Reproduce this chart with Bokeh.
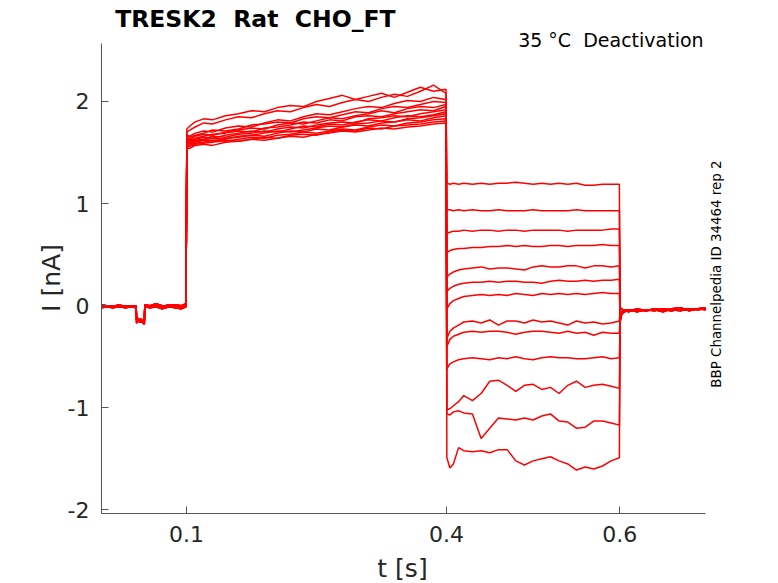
#TRESK2 deactivation traces, Bokeh version

import numpy as np
from bokeh.plotting import figure
from bokeh.models import ColumnDataSource, Range1d, FixedTicker, Label, LinearAxis
from bokeh.embed import file_html
from bokeh.resources import INLINE

#Time points of each protocol segment (s)

t_pre = [0.002, 0.008, 0.015, 0.022, 0.03, 0.036, 0.042, 0.0425, 0.047, 0.0515,
         0.052, 0.058, 0.065, 0.072, 0.08, 0.087, 0.094, 0.0995]
t_step = [0.1005, 0.104, 0.11, 0.12, 0.13, 0.145, 0.16, 0.175, 0.19, 0.205, 0.22, 0.235,
          0.25, 0.265, 0.28, 0.295, 0.31, 0.325, 0.34, 0.355, 0.37, 0.385, 0.3995]
t_test = [0.4005, 0.404, 0.408, 0.414, 0.42, 0.43, 0.44, 0.45, 0.46, 0.47, 0.48, 0.49,
          0.50, 0.51, 0.52, 0.53, 0.54, 0.55, 0.56, 0.57, 0.58, 0.59, 0.5995]
t_tail = [0.6005, 0.602, 0.605, 0.61, 0.62, 0.63, 0.64, 0.65, 0.66, 0.67, 0.68, 0.69, 0.699]

#Holding current before the step (nA), three sweeps shapes

pre_a = [0.00, -0.01, 0.00, -0.01, 0.00, -0.01, 0.00, -0.14, -0.16, -0.13, 0.00, -0.01, 0.00, -0.01, 0.01, 0.00, -0.01, 0.00]
pre_b = [-0.02, -0.01, -0.02, -0.01, -0.02, -0.01, -0.02, -0.17, -0.13, -0.15, -0.01, -0.02, -0.01, -0.03, -0.01, -0.02, -0.03, -0.01]
pre_c = [0.01, 0.00, -0.01, 0.01, -0.01, 0.00, -0.01, -0.11, -0.15, -0.18, 0.01, 0.00, 0.02, 0.00, -0.01, 0.01, 0.00, 0.02]

#Activating step 0.1 - 0.4 s (nA), one row per sweep

step_1 = [1.73, 1.76, 1.80, 1.83, 1.82, 1.86, 1.88, 1.91, 1.90, 1.94, 1.96, 1.95, 2.00, 2.03, 2.06, 2.02, 2.05, 2.08, 2.04, 2.09, 2.14, 2.10, 2.12]
step_2 = [1.70, 1.72, 1.75, 1.79, 1.78, 1.82, 1.85, 1.84, 1.88, 1.91, 1.90, 1.94, 1.97, 1.95, 1.99, 2.02, 2.00, 2.04, 2.07, 2.05, 2.10, 2.16, 2.08]
step_3 = [1.67, 1.66, 1.69, 1.71, 1.70, 1.74, 1.76, 1.75, 1.79, 1.82, 1.81, 1.85, 1.88, 1.87, 1.90, 1.93, 1.95, 1.94, 1.98, 2.01, 2.00, 2.04, 2.02]
step_4 = [1.66, 1.65, 1.67, 1.69, 1.72, 1.71, 1.73, 1.77, 1.78, 1.80, 1.79, 1.83, 1.85, 1.84, 1.87, 1.90, 1.89, 1.93, 1.95, 1.94, 1.97, 2.00, 1.99]
step_5 = [1.64, 1.63, 1.66, 1.68, 1.67, 1.70, 1.72, 1.74, 1.73, 1.77, 1.79, 1.78, 1.81, 1.84, 1.83, 1.86, 1.88, 1.91, 1.89, 1.93, 1.95, 1.94, 1.97]
step_6 = [1.63, 1.62, 1.64, 1.66, 1.68, 1.69, 1.71, 1.70, 1.74, 1.75, 1.77, 1.80, 1.79, 1.82, 1.81, 1.85, 1.86, 1.85, 1.88, 1.90, 1.92, 1.91, 1.95]
step_7 = [1.62, 1.61, 1.63, 1.65, 1.64, 1.67, 1.69, 1.71, 1.70, 1.73, 1.75, 1.74, 1.77, 1.79, 1.80, 1.79, 1.83, 1.84, 1.86, 1.85, 1.88, 1.90, 1.92]
step_8 = [1.61, 1.60, 1.62, 1.63, 1.66, 1.65, 1.68, 1.69, 1.71, 1.70, 1.73, 1.76, 1.75, 1.78, 1.77, 1.80, 1.82, 1.81, 1.84, 1.86, 1.85, 1.87, 1.90]
step_9 = [1.60, 1.59, 1.61, 1.62, 1.64, 1.63, 1.66, 1.67, 1.69, 1.71, 1.70, 1.72, 1.74, 1.76, 1.75, 1.78, 1.79, 1.81, 1.80, 1.83, 1.84, 1.86, 1.88]
step_10 = [1.59, 1.58, 1.60, 1.62, 1.61, 1.64, 1.65, 1.67, 1.66, 1.69, 1.71, 1.70, 1.73, 1.72, 1.75, 1.77, 1.76, 1.79, 1.80, 1.82, 1.81, 1.84, 1.86]
step_11 = [1.58, 1.57, 1.59, 1.60, 1.62, 1.61, 1.63, 1.65, 1.64, 1.67, 1.68, 1.70, 1.69, 1.71, 1.73, 1.72, 1.75, 1.77, 1.76, 1.79, 1.80, 1.82, 1.83]
step_12 = [1.56, 1.56, 1.58, 1.59, 1.60, 1.62, 1.61, 1.63, 1.65, 1.64, 1.67, 1.68, 1.67, 1.70, 1.72, 1.71, 1.74, 1.73, 1.76, 1.77, 1.78, 1.80, 1.81]
step_13 = [1.55, 1.54, 1.57, 1.58, 1.57, 1.60, 1.61, 1.63, 1.62, 1.64, 1.66, 1.65, 1.68, 1.69, 1.71, 1.70, 1.72, 1.74, 1.73, 1.75, 1.76, 1.78, 1.79]

#Deactivation test pulses 0.4 - 0.6 s (nA)

test_1 = [1.20, 1.19, 1.20, 1.19, 1.20, 1.19, 1.20, 1.19, 1.20, 1.20, 1.21, 1.20, 1.19, 1.20, 1.19, 1.20, 1.19, 1.20, 1.18, 1.18, 1.19, 1.19, 1.19]
test_2 = [0.94, 0.94, 0.93, 0.94, 0.93, 0.94, 0.93, 0.93, 0.94, 0.93, 0.93, 0.93, 0.94, 0.93, 0.93, 0.93, 0.93, 0.94, 0.93, 0.93, 0.93, 0.93, 0.93]
test_3 = [0.71, 0.72, 0.73, 0.73, 0.74, 0.73, 0.74, 0.74, 0.73, 0.74, 0.74, 0.73, 0.74, 0.74, 0.74, 0.74, 0.73, 0.74, 0.74, 0.74, 0.74, 0.75, 0.75]
test_4 = [0.52, 0.54, 0.55, 0.56, 0.56, 0.57, 0.57, 0.58, 0.58, 0.59, 0.58, 0.59, 0.58, 0.58, 0.59, 0.59, 0.58, 0.59, 0.59, 0.59, 0.60, 0.59, 0.59]
test_5 = [0.28, 0.31, 0.33, 0.35, 0.36, 0.37, 0.38, 0.36, 0.37, 0.37, 0.36, 0.35, 0.38, 0.39, 0.38, 0.38, 0.39, 0.39, 0.37, 0.39, 0.39, 0.38, 0.39]
test_6 = [0.14, 0.17, 0.19, 0.21, 0.22, 0.23, 0.23, 0.24, 0.23, 0.24, 0.24, 0.23, 0.23, 0.22, 0.24, 0.25, 0.24, 0.24, 0.25, 0.24, 0.25, 0.25, 0.26]
test_7 = [-0.03, 0.02, 0.05, 0.07, 0.09, 0.10, 0.11, 0.10, 0.11, 0.10, 0.12, 0.11, 0.10, 0.12, 0.11, 0.12, 0.11, 0.12, 0.11, 0.12, 0.13, 0.12, 0.12]
test_8 = [-0.32, -0.25, -0.22, -0.19, -0.16, -0.15, -0.17, -0.14, -0.19, -0.15, -0.15, -0.17, -0.14, -0.16, -0.15, -0.17, -0.19, -0.15, -0.17, -0.16, -0.18, -0.17, -0.15]
test_9 = [-0.40, -0.33, -0.30, -0.28, -0.26, -0.25, -0.26, -0.25, -0.25, -0.26, -0.28, -0.26, -0.25, -0.25, -0.26, -0.27, -0.25, -0.27, -0.26, -0.29, -0.26, -0.27, -0.27]
test_10 = [-0.62, -0.57, -0.55, -0.53, -0.52, -0.51, -0.52, -0.53, -0.51, -0.52, -0.50, -0.52, -0.53, -0.51, -0.50, -0.51, -0.51, -0.52, -0.52, -0.51, -0.50, -0.52, -0.51]
test_11 = [-1.02, -1.01, -0.98, -0.94, -0.88, -0.93, -0.86, -0.74, -0.73, -0.78, -0.84, -0.78, -0.77, -0.82, -0.80, -0.86, -0.78, -0.74, -0.80, -0.78, -0.77, -0.79, -0.81]
test_12 = [-1.06, -1.07, -1.04, -1.03, -1.05, -1.06, -1.30, -1.20, -1.10, -1.11, -1.12, -1.10, -1.12, -1.08, -1.06, -1.13, -1.14, -1.20, -1.19, -1.13, -1.13, -1.15, -1.17]
test_13 = [-1.49, -1.59, -1.55, -1.39, -1.42, -1.43, -1.42, -1.44, -1.41, -1.41, -1.52, -1.56, -1.52, -1.50, -1.48, -1.52, -1.55, -1.61, -1.58, -1.60, -1.57, -1.52, -1.49]

#Back to holding after 0.6 s (nA)

tail_a = [-0.15, -0.09, -0.06, -0.05, -0.04, -0.05, -0.03, -0.04, -0.05, -0.03, -0.04, -0.03, -0.02]
tail_b = [-0.02, -0.03, -0.05, -0.04, -0.06, -0.04, -0.05, -0.03, -0.04, -0.05, -0.03, -0.04, -0.03]
tail_c = [-0.08, -0.06, -0.04, -0.06, -0.03, -0.05, -0.04, -0.06, -0.03, -0.02, -0.05, -0.03, -0.04]

steps = [step_1, step_2, step_3, step_4, step_5, step_6, step_7, step_8, step_9, step_10, step_11, step_12, step_13]
tests = [test_1, test_2, test_3, test_4, test_5, test_6, test_7, test_8, test_9, test_10, test_11, test_12, test_13]
pres = [pre_a, pre_b, pre_c]
tails = [tail_a, tail_b, tail_c]

x_ticks = [0.1, 0.4, 0.6]
y_ticks = [-2, -1, 0, 1, 2]
y_tick_labels = {-2: '-2', -1: '-1', 0: '0', 1: '1', 2: '2'}

#Axis extents (the box that MATLAB drew)

x_lo, x_hi = 0.002, 0.699
y_lo, y_hi = -2.035, 2.565

#Join the segments into one sweep each

t_all = t_pre + t_step + t_test + t_tail
xs = []
ys = []
for k in range(len(steps)):
    xs.append(t_all)
    ys.append(pres[k % 3] + steps[k] + tests[k] + tails[k % 3])

data = ColumnDataSource(data = {'xs': xs, 'ys': ys})

#Create the plot: the frame fills the canvas, the axes sit at fixed places inside it
#so that the title and notes around the axes box can be drawn without clipping

plot = figure(width = 778, height = 583, output_backend = "svg", toolbar_location = None,
              x_range = Range1d(-0.1145, 0.7831), y_range = Range1d(-2.721, 2.989),
              x_axis_location = None, y_axis_location = None,
              min_border_left = 0, min_border_right = 0, min_border_top = 0, min_border_bottom = 0)

plot.multi_line(xs = 'xs', ys = 'ys', source = data, color = '#ff0000', line_width = 1.5)

plot.outline_line_color = None
plot.xgrid.grid_line_color = None
plot.ygrid.grid_line_color = None

x_axis = LinearAxis(fixed_location = y_lo, bounds = (x_lo, x_hi), ticker = FixedTicker(ticks = x_ticks))
y_axis = LinearAxis(fixed_location = x_lo, bounds = (y_lo, y_hi), ticker = FixedTicker(ticks = y_ticks),
                    major_label_overrides = y_tick_labels)

for ax in [x_axis, y_axis]:
    ax.axis_line_color = '#555555'
    ax.major_tick_line_color = '#555555'
    ax.major_tick_in = 7
    ax.major_tick_out = 0
    ax.minor_tick_line_color = None
    ax.major_label_text_font = 'DejaVu Sans'
    ax.major_label_text_font_size = '22px'
    ax.major_label_text_color = '#262626'

x_axis.major_label_standoff = 13
y_axis.major_label_standoff = 12

plot.add_layout(x_axis, 'below')
plot.add_layout(y_axis, 'left')

#Axis labels, title and notes

plot.add_layout(Label(x = 0.3493, y = -2.574, text = 't [s]', text_font = 'DejaVu Sans',
                      text_font_size = '25px', text_color = '#262626', text_align = 'center',
                      text_baseline = 'alphabetic'))
plot.add_layout(Label(x = -0.056, y = 0.2712, text = 'I [nA]', text_font = 'DejaVu Sans',
                      text_font_size = '25px', text_color = '#262626', text_align = 'center',
                      text_baseline = 'alphabetic', angle = np.pi / 2))
plot.add_layout(Label(x = 0.0178, y = 2.812, text = 'TRESK2\u00a0 Rat\u00a0 CHO_FT', text_font = 'DejaVu Sans',
                      text_font_style = 'bold', text_font_size = '23.5px', text_color = 'black',
                      text_baseline = 'alphabetic'))
plot.add_layout(Label(x = 0.6967, y = 2.604, text = '35 °C\u00a0 Deactivation', text_font = 'DejaVu Sans',
                      text_font_size = '19px', text_color = 'black', text_align = 'right',
                      text_baseline = 'alphabetic'))
plot.add_layout(Label(x = 0.7116, y = 0.31, text = 'BBP Channelpedia ID 34464 rep 2', text_font = 'DejaVu Sans',
                      text_font_size = '13.4px', text_color = 'black', text_align = 'center',
                      text_baseline = 'middle', angle = np.pi / 2))

#Output the plot

open("out.html", "w").write(file_html(plot, INLINE))
